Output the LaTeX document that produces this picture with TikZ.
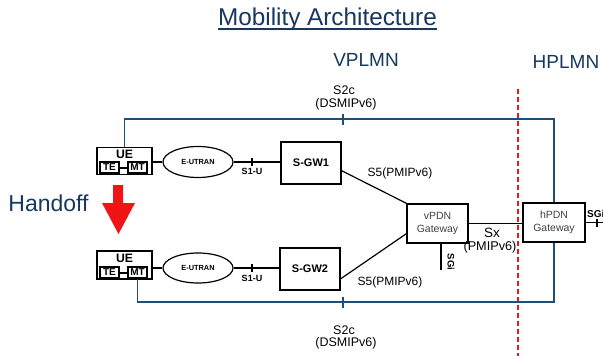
\documentclass[tikz,border=0pt]{standalone}
\usepackage{fontspec}
\setmainfont{Liberation Sans}
\usetikzlibrary{shapes.geometric,calc}
\definecolor{navy}{RGB}{23,55,94}
\definecolor{linkblue}{RGB}{31,78,121}
\definecolor{gwgray}{RGB}{64,64,64}
\definecolor{alertred}{RGB}{240,20,20}
\newcommand{\fs}[1]{\fontsize{#1}{#1}\selectfont}
% heading text with a heavy underline
\newcommand{\headul}[1]{\setbox0\hbox{#1}\mbox{\rlap{\rule[-5pt]{\wd0}{1.8pt}}\box0}}
\tikzset{
  netbox/.style={draw, line width=1.5pt, fill=white, inner sep=0pt},
  smallbox/.style={draw, line width=1.2pt, fill=white, inner sep=0pt, minimum height=11pt, font=\fs{10}\bfseries},
  link/.style={line width=1.2pt},
  s2link/.style={line width=1.3pt, draw=linkblue},
  lbl/.style={inner sep=0pt, font=\fs{12.5}},
  boldlbl/.style={inner sep=0pt, font=\fs{9}\bfseries},
  heading/.style={inner sep=0pt, text=navy, font=\fs{19}},
}
\begin{document}
\begin{tikzpicture}[x=1pt, y=-1pt]
\useasboundingbox (0,0) rectangle (603,356);

% headings
\node[heading, font=\fs{24.3}, anchor=base] (title) at (327.5,25) {\headul{Mobility Architecture}};
\node[heading] (vplmn) at (366,60) {VPLMN};
\node[heading] (hplmn) at (566,62) {HPLMN};
\node[heading, font=\fs{23}] (handoff) at (48.5,203) {Handoff};

% network border
\coordinate (borderTop) at (518,89);
\coordinate (borderBot) at (518,356);
\draw[alertred, line width=1.4pt, dash pattern=on 5pt off 3pt] (borderTop) -- (borderBot);

% handoff arrow
\fill[alertred] (113,185) -- (123,185) -- (123,203) -- (135,203) -- (118.5,234) -- (102,203) -- (113,203) -- cycle;

% UE before handoff
\node[netbox, minimum width=55pt, minimum height=27pt] (ue1) at (124.5,161) {};
\node[inner sep=0pt, font=\fs{12.2}\bfseries] (ue1t) at (124.5,154.5) {UE};
\node[smallbox, minimum width=19pt] (te1) at (109.5,167.5) {TE};
\node[smallbox, minimum width=19pt] (mt1) at (137.5,167.5) {MT};
\draw[link] (te1.east |- 0,168) -- (mt1.west |- 0,168);

% UE after handoff
\node[netbox, minimum width=55pt, minimum height=28pt] (ue2) at (124.5,265) {};
\node[inner sep=0pt, font=\fs{12.2}\bfseries] (ue2t) at (124.5,258) {UE};
\node[smallbox, minimum width=19pt] (te2) at (109.5,272.5) {TE};
\node[smallbox, minimum width=19pt] (mt2) at (137.5,272.5) {MT};
\draw[link] (te2.east |- 0,273) -- (mt2.west |- 0,273);

% radio access
\node[ellipse, netbox, line width=1.2pt, minimum width=70pt, minimum height=31pt, font=\fs{7.4}\bfseries] (eut1) at (198,162) {E-UTRAN};
\node[ellipse, netbox, line width=1.2pt, minimum width=70pt, minimum height=30pt, font=\fs{7.4}\bfseries] (eut2) at (198,268) {E-UTRAN};

% serving gateways
\node[netbox, minimum width=60pt, minimum height=42pt, font=\fs{11}\bfseries] (sgw1) at (311,163) {S-GW1};
\node[netbox, minimum width=60pt, minimum height=42pt, font=\fs{11}\bfseries] (sgw2) at (310,269) {S-GW2};

% PDN gateways
\node[netbox, minimum width=61pt, minimum height=39pt, align=center, text=gwgray, font=\fs{10.5}] (vpdn) at (437.5,223.5) {vPDN\\[2pt]Gateway};
\node[netbox, minimum width=62pt, minimum height=39pt, align=center, text=gwgray, font=\fs{10.5}] (hpdn) at (554,222.5) {hPDN\\[2pt]Gateway};

% UE to E-UTRAN
\draw[link] (ue1.east |- eut1.west) -- (eut1.west);
\draw[link] (ue2.east |- eut2.west) -- (eut2.west);

% S1-U
\draw[link] (eut1.east) -- (sgw1.west |- eut1.east);
\draw[link] (eut2.east) -- (sgw2.west |- eut2.east);
\coordinate (s1a) at (252,162);
\coordinate (s1b) at (252,268);
\draw[link] (s1a) ++(0,-4) -- ++(0,8);
\draw[link] (s1b) ++(0,-4) -- ++(0,8);
\node[boldlbl] (s1al) at (252,171.5) {S1-U};
\node[boldlbl] (s1bl) at (252,278) {S1-U};

% S5
\draw[link] ($(sgw1.south east)+(0,-14)$) -- (vpdn.north west);
\draw[link] ($(sgw2.south east)+(0,-12)$) -- ($(vpdn.south west)+(0,-10)$);
\node[lbl, font=\fs{12}] (s5a) at (400,173) {S5(PMIPv6)};
\node[lbl, font=\fs{12}] (s5b) at (390,282) {S5(PMIPv6)};

% Sx
\draw[link, line width=1.5pt] (vpdn.east) -- (vpdn.east -| hpdn.west);
\node[lbl, font=\fs{13.5}] (sx) at (492,233) {Sx};
\node[lbl, font=\fs{12.7}] (sxp) at (490,247) {(PMIPv6)};

% SGi
\coordinate (sgiv) at (441,270);
\draw[link] (sgiv |- vpdn.south) -- (sgiv);
\node[boldlbl, font=\fs{9.5}\bfseries, rotate=-90] (sgivl) at (451,262) {SGi};
\coordinate (sgih) at (603,222.5);
\draw[link] (hpdn.east) -- (sgih);
\draw[link] (597,218.5) -- (597,227);
\node[boldlbl, font=\fs{10}\bfseries, anchor=west] (sgihl) at (587,214) {SGi};

% S2c (DSMIPv6)
\coordinate (s2top) at (343,119);
\coordinate (s2bot) at (343,302);
\draw[s2link] (ue1.north) |- (s2top) -| (hpdn.north);
\draw[s2link] (mt2.south) |- (s2bot) -| (hpdn.south);
\draw[s2link] (s2top) ++(0,-5) -- ++(0,11);
\draw[s2link] (s2bot) ++(0,-5) -- ++(0,11);
\node[lbl] (s2a) at (344,90) {S2c};
\node[lbl] (s2ap) at (346,104) {(DSMIPv6)};
\node[lbl] (s2b) at (344,330) {S2c};
\node[lbl] (s2bp) at (346,343) {(DSMIPv6)};
\end{tikzpicture}
\end{document}
